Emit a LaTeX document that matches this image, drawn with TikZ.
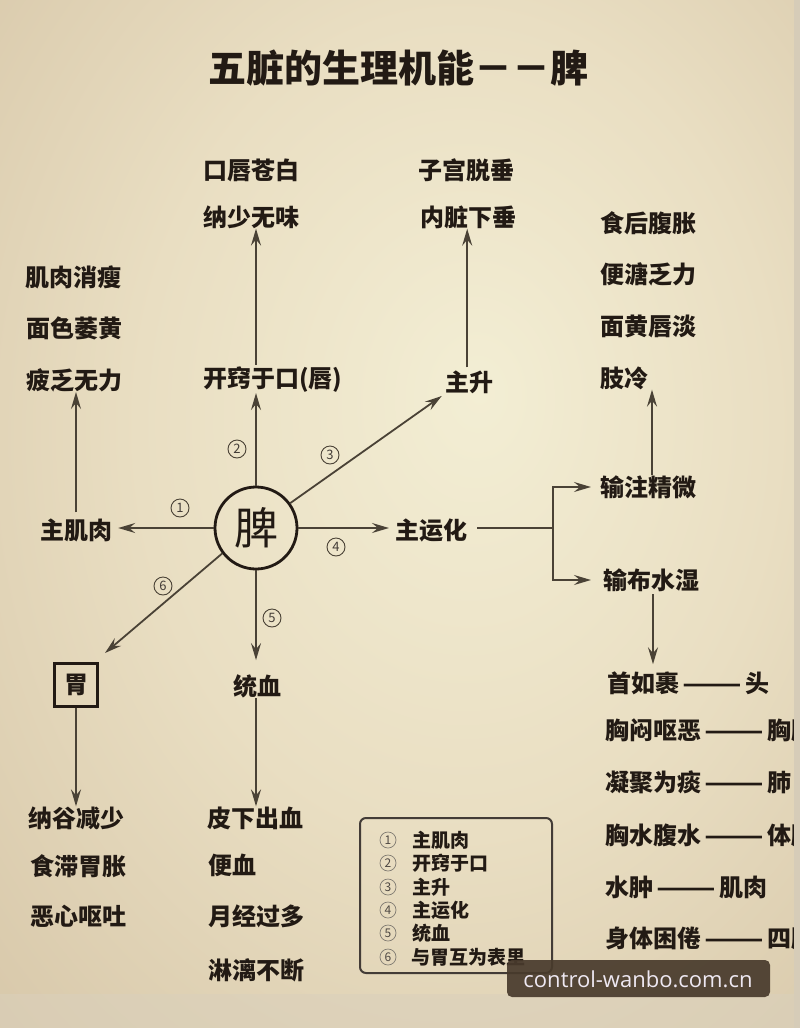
\documentclass[tikz,border=0pt]{standalone}
\usepackage{fontspec}
\usepackage{graphicx}
\setmainfont{Noto Sans CJK SC}
\newfontfamily\wmfont{Open Sans}
\usetikzlibrary{arrows.meta,calc}
\definecolor{ink}{RGB}{34,26,20}
\definecolor{ln}{RGB}{74,66,54}
\definecolor{pc}{RGB}{243,238,212}
\definecolor{pm}{RGB}{233,222,194}
\definecolor{po}{RGB}{208,190,159}
\definecolor{pe}{RGB}{182,161,128}
\definecolor{band}{RGB}{214,204,184}
\definecolor{bottomb}{RGB}{218,208,188}
\definecolor{wmbg}{RGB}{72,58,44}
\definecolor{wmtx}{RGB}{238,232,242}
\pgfdeclareradialshading{paper}{\pgfpoint{5bp}{6bp}}{color(0bp)=(pc); color(20bp)=(pm); color(48bp)=(po); color(72bp)=(pe)}
\newcommand{\dd}{\hspace{3pt}\scalebox{1.45}[1]{——}\hspace{4pt}}
\tikzset{
  lbl/.style={font=\bfseries\fontsize{24}{24}\selectfont, text=ink, inner sep=0pt, anchor=west},
  lblc/.style={font=\bfseries\fontsize{24}{24}\selectfont, text=ink, inner sep=0pt},
  arr/.style={draw=ln, line width=1.8pt, -{Stealth[length=17pt,width=10pt,inset=6pt]}},
  conn/.style={draw=ln, line width=1.8pt},
  num/.style={circle, draw=ln, line width=0.9pt, minimum size=18pt, inner sep=0pt, font=\fontsize{13}{13}\selectfont, text=ink!85},
  lgnum/.style={circle, draw=ln!70, line width=0.7pt, minimum size=16pt, inner sep=0pt, font=\fontsize{12}{12}\selectfont, text=ink!80},
  lgtx/.style={font=\bfseries\fontsize{19}{19}\selectfont, text=ink, inner sep=0pt, anchor=west}
}
\begin{document}
\begin{tikzpicture}[x=1pt,y=-1pt]
\useasboundingbox (0,0) rectangle (800,1028);
\shade[shading=paper] (0,0) rectangle (800,1028);
\fill[bottomb, opacity=0.55] (0,994) rectangle (800,1028);
\fill[band] (794,0) rectangle (800,1028);

% title
\node[font=\bfseries\fontsize{38}{38}\selectfont, text=ink, inner sep=0pt] (title) at (398,68) {五脏的生理机能－－脾};

% central node
\node[circle, draw=ink, line width=2.8pt, minimum size=82pt, inner sep=0pt, font=\fontsize{44}{44}\selectfont, text=ink] (pi) at (256,528) {脾};

% upper labels
\node[lbl] (kb1) at (203,170) {口唇苍白};
\node[lbl] (kb2) at (203,217) {纳少无味};
\node[lbl] (zg1) at (418,170) {子宫脱垂};
\node[lbl] (zg2) at (420,217) {内脏下垂};
\node[lbl] (sh1) at (600,223) {食后腹胀};
\node[lbl] (sh2) at (600,274) {便溏乏力};
\node[lbl] (sh3) at (600,326) {面黄唇淡};
\node[lbl] (sh4) at (600,378) {肢冷};
\node[lbl] (jr1) at (25,277) {肌肉消瘦};
\node[lbl] (jr2) at (26,328) {面色萎黄};
\node[lbl] (jr3) at (26,380) {疲乏无力};
\node[lbl] (kq) at (203,380) {开窍于口(唇)};
\node[lbl] (zs) at (445,382) {主升};

% middle
\node[lblc] (zjr) at (76,530) {主肌肉};
\node[lbl] (zyh) at (395,530) {主运化};
\node[lbl] (szjw) at (600,487) {输注精微};
\node[lbl] (sbss) at (603,580) {输布水湿};
\node[draw=ink, line width=3pt, minimum size=43pt, inner sep=0pt, font=\bfseries\fontsize{24}{24}\selectfont, text=ink] (wei) at (76,685) {胃};
\node[lblc] (tx) at (257,686) {统血};

% lower labels
\node[lbl] (ng1) at (28,818) {纳谷减少};
\node[lbl] (ng2) at (30,866) {食滞胃胀};
\node[lbl] (ng3) at (30,916) {恶心呕吐};
\node[lbl] (px1) at (207,818) {皮下出血};
\node[lbl] (px2) at (208,865) {便血};
\node[lbl] (px3) at (208,916) {月经过多};
\node[lbl] (px4) at (208,970) {淋漓不断};

% right column (cut at the page edge, as in the reference)
\begin{scope}
\clip (0,0) rectangle (793,1028);
\node[lbl] (r1) at (607,683) {首如裹\dd 头};
\node[lbl] (r2) at (605,730) {胸闷呕恶\dd 胸脘};
\node[lbl] (r3) at (605,782) {凝聚为痰\dd 肺};
\node[lbl] (r4) at (605,835) {胸水腹水\dd 体腔};
\node[lbl] (r5) at (605,887) {水肿\dd 肌肉};
\node[lbl] (r6) at (605,938) {身体困倦\dd 四肢};
\end{scope}

% connectors
\coordinate (br) at (553,528);
\coordinate (up4) at (652,475);
\coordinate (dn4) at (653,594);
\draw[arr, shorten >=6pt] (pi.west) -- (pi.west -| zjr.east);
\draw[arr] (pi.north) -- (pi |- kq.south);
\draw[arr, shorten <=2pt] (pi |- kq.north) -- (pi |- kb2.south);
\draw[arr, shorten >=4pt] (pi.36.5) -- (zs.south west);
\draw[arr, shorten <=3pt] ([xshift=-2pt]zs.north) -- ([xshift=-2pt]zs.north |- zg2.south);
\draw[arr, shorten <=6pt] (zjr.north) -- (zjr |- jr3.south);
\draw[arr] (pi.217) -- ($(wei.north east)+(6,-9)$);
\draw[arr] (wei.south) -- (wei |- ng1.north);
\draw[arr, shorten >=14pt] (pi.south) -- (pi |- tx.north);
\draw[arr] (pi |- tx.south) -- (pi |- px1.north);
\draw[arr, shorten >=6pt] (pi.east) -- (pi.east -| zyh.west);
\draw[conn] ($(zyh.east |- br)+(10,0)$) -- (br);
\draw[arr, shorten >=9pt] (br) |- (szjw.west);
\draw[arr, shorten >=12pt] (br) |- (sbss.west);
\draw[arr] (up4) -- (up4 |- sh4.south);
\draw[arr, shorten >=7pt] (dn4) -- (dn4 |- r1.north);

% circled numbers
\node[num] (n1) at (180,508) {1};
\node[num] (n2) at (237,449) {2};
\node[num] (n3) at (330,455) {3};
\node[num] (n4) at (336,547) {4};
\node[num] (n5) at (272,618) {5};
\node[num] (n6) at (163,586) {6};

% legend
\draw[ink!85, line width=2pt, rounded corners=6pt] (360,818) rectangle (552,973);
\node[lgnum] (l1) at (388,840) {1}; \node[lgtx] (lt1) at (412,840) {主肌肉};
\node[lgnum] (l2) at (388,863) {2}; \node[lgtx] (lt2) at (412,863) {开窍于口};
\node[lgnum] (l3) at (388,887) {3}; \node[lgtx] (lt3) at (412,887) {主升};
\node[lgnum] (l4) at (388,910) {4}; \node[lgtx] (lt4) at (412,910) {主运化};
\node[lgnum] (l5) at (388,933) {5}; \node[lgtx] (lt5) at (412,933) {统血};
\node[lgnum] (l6) at (388,957) {6}; \node[lgtx] (lt6) at (411,957) {与胃互为表里};

% watermark
\fill[wmbg, opacity=0.92, rounded corners=5pt] (507,960) rectangle (770,997);
\node[font=\wmfont\fontsize{22}{22}\selectfont, text=wmtx, inner sep=0pt] (wm) at (638,979) {control-wanbo.com.cn};
\end{tikzpicture}
\end{document}
